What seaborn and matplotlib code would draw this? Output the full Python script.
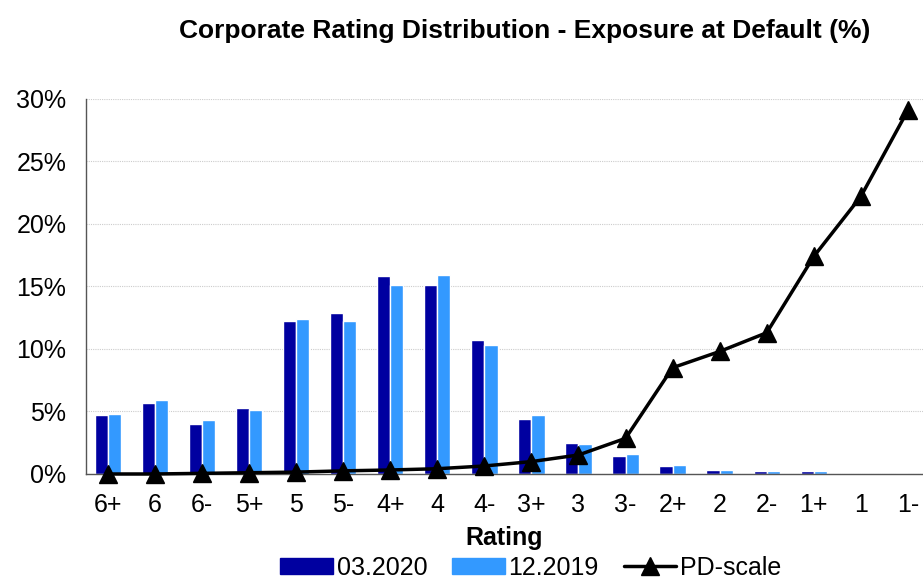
import numpy as np
import pandas as pd
import matplotlib
matplotlib.use("Agg")
import matplotlib.pyplot as plt
import seaborn as sns
from matplotlib.ticker import PercentFormatter

ratings = ["6+", "6", "6-", "5+", "5", "5-", "4+", "4", "4-",
           "3+", "3", "3-", "2+", "2", "2-", "1+", "1", "1-"]
ead_2020_03 = [4.7, 5.7, 4.0, 5.25, 12.2, 12.9, 15.8, 15.15, 10.75,
               4.42, 2.5, 1.47, 0.6, 0.3, 0.2, 0.22, 0.02, 0.08]
ead_2019_12 = [4.8, 5.9, 4.35, 5.1, 12.4, 12.2, 15.1, 15.95, 10.3,
               4.7, 2.43, 1.58, 0.75, 0.3, 0.2, 0.22, 0.02, 0.03]
pd_scale = [0.0, 0.0, 0.05, 0.1, 0.15, 0.25, 0.32, 0.42, 0.64,
            0.99, 1.52, 2.85, 8.5, 9.8, 11.3, 17.4, 22.2, 29.1]
series_names = ["03.2020", "12.2019"]
colors = ["#0000A0", "#3399FF"]

df = pd.DataFrame({
    "Rating": ratings * 2,
    "value": ead_2020_03 + ead_2019_12,
    "period": [series_names[0]] * len(ratings) + [series_names[1]] * len(ratings),
})

sns.set_style("white")
plt.rcParams["font.family"] = ["Liberation Sans", "DejaVu Sans"]
plt.rcParams["text.color"] = "black"

fig = plt.figure(figsize=(9.23, 5.82), dpi=100)
ax = fig.add_axes([0.093, 0.1856, 0.907, 0.6444])

sns.barplot(data=df, x="Rating", y="value", hue="period", order=ratings,
            palette=colors, width=0.56, saturation=1, gap=0, ax=ax, legend=False)
ax.plot(np.arange(len(ratings)), pd_scale, color="black", lw=2.5,
        marker="^", markersize=13, label="PD-scale", zorder=5, clip_on=False)

ax.set_ylim(0, 30)
ax.set_xlim(-0.467, 17.32)
ax.set_yticks(np.arange(0, 31, 5))
ax.yaxis.set_major_formatter(PercentFormatter(decimals=0))
ax.yaxis.grid(True, color="#cccccc", linestyle=(0, (1, 1)), lw=0.8)
ax.set_axisbelow(True)
for side in ["top", "right"]:
    ax.spines[side].set_visible(False)
for side in ["left", "bottom"]:
    ax.spines[side].set_color("#555555")
    ax.spines[side].set_linewidth(1)
ax.tick_params(axis="y", labelsize=18, length=0, pad=14, labelcolor="black")
ax.tick_params(axis="x", labelsize=18, length=0, pad=14, labelcolor="black")
ax.set_xlabel("Rating", fontsize=18, fontweight="bold", labelpad=6, color="black")
ax.set_ylabel("")

fig.suptitle("Corporate Rating Distribution - Exposure at Default (%)",
             x=0.569, y=0.968, fontsize=19, fontweight="bold", color="black")

handles = [plt.Rectangle((0, 0), 1, 1, color=c) for c in colors]
handles.append(plt.Line2D([], [], color="black", lw=2.5, marker="^", markersize=13))
fig.legend(handles, series_names + ["PD-scale"], loc="lower center",
           bbox_to_anchor=(0.575, -0.035), ncol=3, frameon=False, fontsize=18,
           handlelength=2.1, handleheight=0.6, columnspacing=1.0, handletextpad=0.15)

fig.savefig("out.png", dpi=100)
